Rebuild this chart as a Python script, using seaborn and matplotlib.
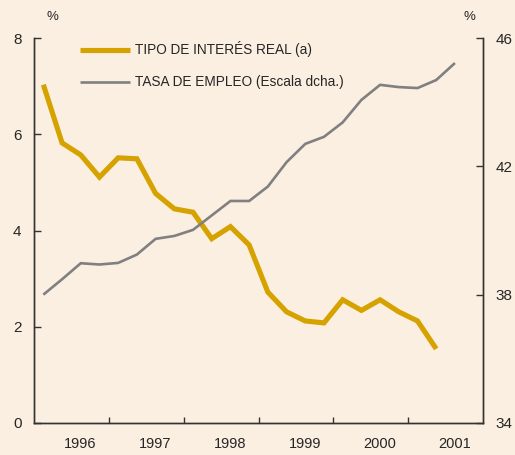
import numpy as np
import pandas as pd
import matplotlib
matplotlib.use("Agg")
import matplotlib.pyplot as plt
import seaborn as sns

# =====================
# Data (quarterly, 1996 Q1 onwards)
# =====================
tipo_interes = [7.03, 5.82, 5.57, 5.11, 5.51, 5.49, 4.77, 4.45, 4.38, 3.83, 4.08,
                3.70, 2.72, 2.31, 2.12, 2.08, 2.56, 2.34, 2.56, 2.31, 2.12, 1.54]
tasa_empleo = [38.00, 38.48, 38.98, 38.94, 38.99, 39.25, 39.74, 39.83, 40.02, 40.47,
               40.92, 40.92, 41.37, 42.13, 42.70, 42.92, 43.37, 44.07, 44.54, 44.47,
               44.44, 44.69, 45.22]
years = [1996, 1997, 1998, 1999, 2000, 2001]

# quarter -> decimal year (middle of quarter)
def quarter_pos(n):
    return [1996 + (i + 0.5) / 4 for i in range(n)]

df_int = pd.DataFrame({'x': quarter_pos(len(tipo_interes)), 'y': tipo_interes})
df_emp = pd.DataFrame({'x': quarter_pos(len(tasa_empleo)), 'y': tasa_empleo})

# =====================
# Style
# =====================
bg = '#FBEFE1'
gold = '#D6A200'
grey = '#808080'
sns.set_style("white")
plt.rcParams['font.family'] = ['Liberation Sans', 'DejaVu Sans']
plt.rcParams['axes.facecolor'] = bg
plt.rcParams['figure.facecolor'] = bg

fig, ax = plt.subplots(figsize=(5.15, 4.55), dpi=100)
fig.subplots_adjust(left=34/515, right=483/515, top=1-38/455, bottom=1-423/455)
ax2 = ax.twinx()

sns.lineplot(data=df_int, x='x', y='y', color=gold, linewidth=3.7, ax=ax,
             label='TIPO DE INTERÉS REAL (a)', legend=False)
sns.lineplot(data=df_emp, x='x', y='y', color=grey, linewidth=1.9, ax=ax2,
             label='TASA DE EMPLEO (Escala dcha.)', legend=False)
for l in ax.lines + ax2.lines:
    l.set_solid_joinstyle('miter')
    l.set_solid_capstyle('butt')

ax.set_xlim(1996, 2002)
ax.set_ylim(0, 8)
ax2.set_ylim(34, 46)
ax.set_yticks([0, 2, 4, 6, 8])
ax2.set_yticks([34, 38, 42, 46])
ax.set_xticks(years[1:])
ax.set_xticklabels([])
ax.set_xticks([y + 0.62 for y in years], minor=True)
ax.set_xticklabels([str(y) for y in years], minor=True)
ax.set_xlabel('')
ax.set_ylabel('')
ax2.set_ylabel('')

spine_col = '#333333'
for a in (ax, ax2):
    a.spines['top'].set_visible(False)
    for s in ('left', 'right', 'bottom'):
        a.spines[s].set_color(spine_col)
        a.spines[s].set_linewidth(1.0)
ax.tick_params(axis='y', direction='in', length=5, width=1, color=spine_col,
               labelsize=11, pad=9, left=True)
ax2.tick_params(axis='y', direction='in', length=5, width=1, color=spine_col,
                labelsize=11, pad=9, right=True)
ax.tick_params(axis='x', which='major', direction='in', length=4, width=1,
               color=spine_col, bottom=True)
ax.tick_params(axis='x', which='minor', length=0, labelsize=10.5, pad=10)

ax.text((52-34)/449, 1.055, '%', transform=ax.transAxes,
        ha='center', va='center', fontsize=9.5)
ax.text((469-34)/449, 1.055, '%', transform=ax.transAxes,
        ha='center', va='center', fontsize=9.5)

h1, l1 = ax.get_legend_handles_labels()
h2, l2 = ax2.get_legend_handles_labels()
ax2.legend(h1 + h2, l1 + l2, loc='upper left', bbox_to_anchor=((80-34)/449, 0.991),
           frameon=False, fontsize=9.8, handlelength=3.65, handletextpad=0.37,
           labelspacing=1.32, borderaxespad=0, borderpad=0)

plt.savefig("out.png", dpi=100, facecolor=bg)
